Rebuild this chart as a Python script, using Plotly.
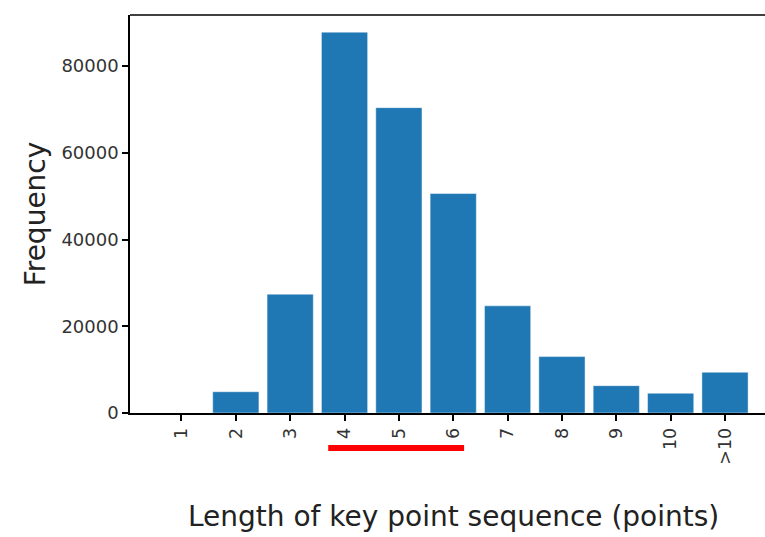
import plotly.graph_objects as go

categories = ["1", "2", "3", "4", "5", "6", "7", "8", "9", "10", ">10"]
frequency = [0, 4900, 27400, 87800, 70400, 50600, 24700, 13000, 6300, 4550, 9400]
y_ticks = [0, 20000, 40000, 60000, 80000]
highlight_start, highlight_end = "4", "6"

BAR_COLOR = "#1f77b4"
FONT = "DejaVu Sans"

fig = go.Figure()
fig.add_trace(go.Bar(
    x=categories, y=frequency, width=0.85,
    marker=dict(color=BAR_COLOR, line=dict(color="rgba(255,255,255,0.45)", width=1)),
))

i0 = categories.index(highlight_start)
i1 = categories.index(highlight_end)
fig.add_shape(type="line", xref="x", yref="paper",
              x0=i0 - 0.3, x1=i1 + 0.2, y0=-0.088, y1=-0.088,
              line=dict(color="#ff0000", width=6))

fig.update_layout(
    width=765, height=537,
    margin=dict(l=130, r=0, t=15, b=124),
    paper_bgcolor="white", plot_bgcolor="white",
    font=dict(family=FONT, color="#222"),
    showlegend=False,
    bargap=0.15,
)
fig.update_xaxes(
    type="category", range=[-0.947, 10.736],
    showline=True, linecolor="black", linewidth=1.5, mirror=False,
    ticks="outside", ticklen=6, tickwidth=1.5, tickcolor="black",
    tickangle=-90, tickfont=dict(size=17.5, color="#333"),
    showgrid=False, zeroline=False, automargin=False,
)
fig.add_annotation(text="Length of key point sequence (points)",
                   xref="paper", yref="paper", x=0.5087, y=-0.2613,
                   xanchor="center", yanchor="middle", showarrow=False,
                   font=dict(size=28, color="#222"))
fig.update_yaxes(
    range=[0, 91760], tickvals=y_ticks, ticktext=[str(v) for v in y_ticks],
    showline=True, linecolor="black", linewidth=1.5,
    ticks="outside", ticklen=6, tickwidth=1.5, tickcolor="black",
    tickfont=dict(size=18, color="#333"),
    showgrid=False, zeroline=False, automargin=False,
    title=dict(text="Frequency", font=dict(size=28, color="#222"), standoff=8),
)
# top spine
fig.add_shape(type="line", xref="paper", yref="paper", x0=0, x1=1, y0=1, y1=1,
              line=dict(color="black", width=1.5))

fig.write_html("out.html")
